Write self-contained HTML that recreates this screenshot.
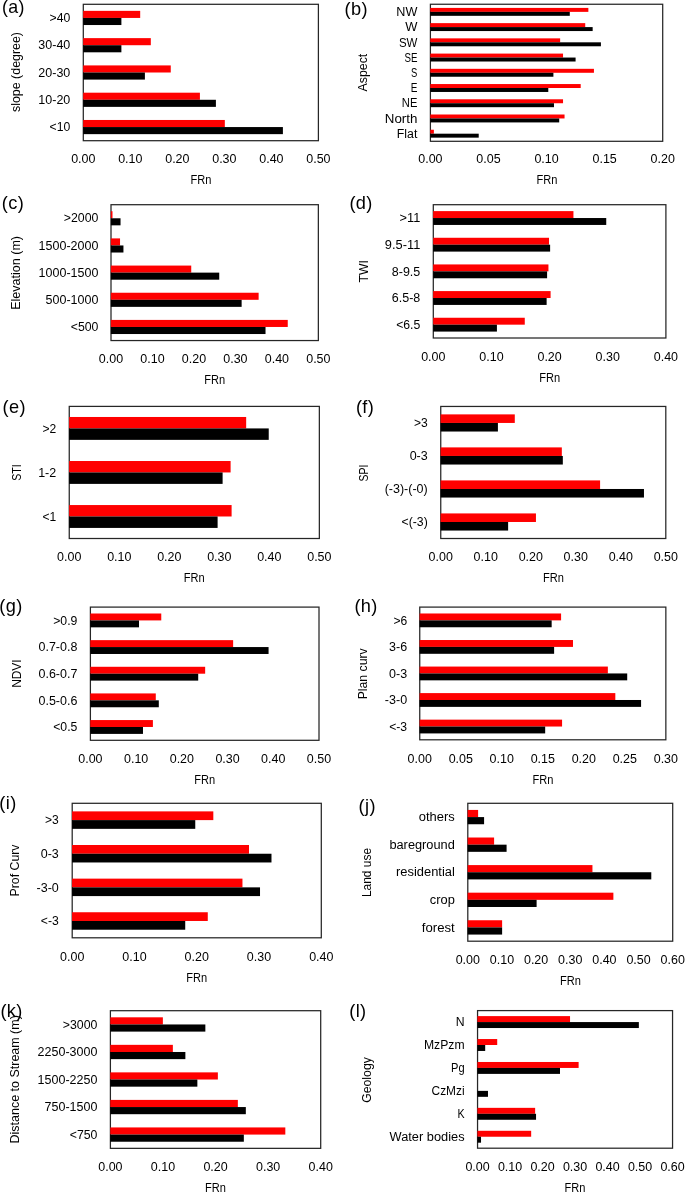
<!DOCTYPE html>
<html><head><meta charset="utf-8"><title>FRn charts</title>
<style>
html,body{margin:0;padding:0;background:#fff;}
svg{display:block;will-change:transform;font-family:"Liberation Sans",sans-serif;}
</style></head><body>
<svg width="685" height="1193" viewBox="0 0 685 1193">
<rect x="0" y="0" width="685" height="1193" fill="#ffffff"/>
<g>
<rect x="83.30" y="4.30" width="235.10" height="136.40" fill="none" stroke="#262626" stroke-width="1.25"/>
<rect x="83.15" y="10.85" width="57.04" height="7.09" fill="#ff0000"/>
<rect x="83.15" y="17.94" width="38.24" height="7.09" fill="#000"/>
<text x="70.30" y="22.14" text-anchor="end" font-size="12.30" textLength="20.71" lengthAdjust="spacingAndGlyphs" fill="#000">&gt;40</text>
<rect x="83.15" y="38.13" width="67.67" height="7.09" fill="#ff0000"/>
<rect x="83.15" y="45.22" width="38.24" height="7.09" fill="#000"/>
<text x="70.30" y="49.42" text-anchor="end" font-size="12.30" textLength="31.98" lengthAdjust="spacingAndGlyphs" fill="#000">30-40</text>
<rect x="83.15" y="65.41" width="87.61" height="7.09" fill="#ff0000"/>
<rect x="83.15" y="72.50" width="61.75" height="7.09" fill="#000"/>
<text x="70.30" y="76.70" text-anchor="end" font-size="12.30" textLength="31.98" lengthAdjust="spacingAndGlyphs" fill="#000">20-30</text>
<rect x="83.15" y="92.69" width="116.76" height="7.09" fill="#ff0000"/>
<rect x="83.15" y="99.78" width="132.75" height="7.09" fill="#000"/>
<text x="70.30" y="103.98" text-anchor="end" font-size="12.30" textLength="31.98" lengthAdjust="spacingAndGlyphs" fill="#000">10-20</text>
<rect x="83.15" y="119.97" width="141.68" height="7.09" fill="#ff0000"/>
<rect x="83.15" y="127.06" width="199.75" height="7.09" fill="#000"/>
<text x="70.30" y="131.26" text-anchor="end" font-size="12.30" textLength="20.71" lengthAdjust="spacingAndGlyphs" fill="#000">&lt;10</text>
<text x="83.30" y="163.30" text-anchor="middle" font-size="12.30" textLength="24.29" lengthAdjust="spacingAndGlyphs" fill="#000">0.00</text>
<text x="130.32" y="163.30" text-anchor="middle" font-size="12.30" textLength="24.29" lengthAdjust="spacingAndGlyphs" fill="#000">0.10</text>
<text x="177.34" y="163.30" text-anchor="middle" font-size="12.30" textLength="24.29" lengthAdjust="spacingAndGlyphs" fill="#000">0.20</text>
<text x="224.36" y="163.30" text-anchor="middle" font-size="12.30" textLength="24.29" lengthAdjust="spacingAndGlyphs" fill="#000">0.30</text>
<text x="271.38" y="163.30" text-anchor="middle" font-size="12.30" textLength="24.29" lengthAdjust="spacingAndGlyphs" fill="#000">0.40</text>
<text x="318.40" y="163.30" text-anchor="middle" font-size="12.30" textLength="24.29" lengthAdjust="spacingAndGlyphs" fill="#000">0.50</text>
<text x="201.00" y="184.30" text-anchor="middle" font-size="12.30" textLength="20.92" lengthAdjust="spacingAndGlyphs" fill="#000">FRn</text>
<text x="20.40" y="72.00" text-anchor="middle" font-size="12.30" textLength="80.02" lengthAdjust="spacingAndGlyphs" transform="rotate(-90 20.40 72.00)" fill="#000">slope (degree)</text>
<text x="1.90" y="13.10" text-anchor="start" font-size="17.80" fill="#000" letter-spacing="0.4">(a)</text>
<rect x="430.40" y="4.25" width="232.30" height="137.05" fill="none" stroke="#262626" stroke-width="1.25"/>
<rect x="430.25" y="7.91" width="158.11" height="3.96" fill="#ff0000"/>
<rect x="430.25" y="11.86" width="139.53" height="3.96" fill="#000"/>
<text x="417.40" y="16.06" text-anchor="end" font-size="12.30" textLength="21.04" lengthAdjust="spacingAndGlyphs" fill="#000">NW</text>
<rect x="430.25" y="23.14" width="154.98" height="3.96" fill="#ff0000"/>
<rect x="430.25" y="27.09" width="162.41" height="3.96" fill="#000"/>
<text x="417.40" y="31.29" text-anchor="end" font-size="12.30" textLength="12.19" lengthAdjust="spacingAndGlyphs" fill="#000">W</text>
<rect x="430.25" y="38.36" width="129.89" height="3.96" fill="#ff0000"/>
<rect x="430.25" y="42.32" width="170.66" height="3.96" fill="#000"/>
<text x="417.40" y="46.52" text-anchor="end" font-size="12.30" textLength="18.48" lengthAdjust="spacingAndGlyphs" fill="#000">SW</text>
<rect x="430.25" y="53.59" width="132.79" height="3.96" fill="#ff0000"/>
<rect x="430.25" y="57.55" width="145.34" height="3.96" fill="#000"/>
<text x="417.40" y="61.75" text-anchor="end" font-size="12.30" textLength="12.97" lengthAdjust="spacingAndGlyphs" fill="#000">SE</text>
<rect x="430.25" y="68.82" width="163.69" height="3.96" fill="#ff0000"/>
<rect x="430.25" y="72.78" width="123.15" height="3.96" fill="#000"/>
<text x="417.40" y="76.98" text-anchor="end" font-size="12.30" textLength="6.29" lengthAdjust="spacingAndGlyphs" fill="#000">S</text>
<rect x="430.25" y="84.05" width="150.45" height="3.96" fill="#ff0000"/>
<rect x="430.25" y="88.00" width="118.04" height="3.96" fill="#000"/>
<text x="417.40" y="92.20" text-anchor="end" font-size="12.30" textLength="6.69" lengthAdjust="spacingAndGlyphs" fill="#000">E</text>
<rect x="430.25" y="99.28" width="132.79" height="3.96" fill="#ff0000"/>
<rect x="430.25" y="103.23" width="123.73" height="3.96" fill="#000"/>
<text x="417.40" y="107.43" text-anchor="end" font-size="12.30" textLength="15.54" lengthAdjust="spacingAndGlyphs" fill="#000">NE</text>
<rect x="430.25" y="114.50" width="134.30" height="3.96" fill="#ff0000"/>
<rect x="430.25" y="118.46" width="128.96" height="3.96" fill="#000"/>
<text x="417.40" y="122.66" text-anchor="end" font-size="12.30" textLength="32.63" lengthAdjust="spacingAndGlyphs" fill="#000">North</text>
<rect x="430.25" y="129.73" width="3.63" height="3.96" fill="#ff0000"/>
<rect x="430.25" y="133.69" width="48.47" height="3.96" fill="#000"/>
<text x="417.40" y="137.89" text-anchor="end" font-size="12.30" textLength="20.58" lengthAdjust="spacingAndGlyphs" fill="#000">Flat</text>
<text x="430.40" y="163.40" text-anchor="middle" font-size="12.30" textLength="24.29" lengthAdjust="spacingAndGlyphs" fill="#000">0.00</text>
<text x="488.48" y="163.40" text-anchor="middle" font-size="12.30" textLength="24.29" lengthAdjust="spacingAndGlyphs" fill="#000">0.05</text>
<text x="546.55" y="163.40" text-anchor="middle" font-size="12.30" textLength="24.29" lengthAdjust="spacingAndGlyphs" fill="#000">0.10</text>
<text x="604.62" y="163.40" text-anchor="middle" font-size="12.30" textLength="24.29" lengthAdjust="spacingAndGlyphs" fill="#000">0.15</text>
<text x="662.70" y="163.40" text-anchor="middle" font-size="12.30" textLength="24.29" lengthAdjust="spacingAndGlyphs" fill="#000">0.20</text>
<text x="547.00" y="184.40" text-anchor="middle" font-size="12.30" textLength="20.92" lengthAdjust="spacingAndGlyphs" fill="#000">FRn</text>
<text x="367.40" y="72.60" text-anchor="middle" font-size="12.30" textLength="37.69" lengthAdjust="spacingAndGlyphs" transform="rotate(-90 367.40 72.60)" fill="#000">Aspect</text>
<text x="344.60" y="15.00" text-anchor="start" font-size="18.20" fill="#000" letter-spacing="0.4">(b)</text>
<rect x="111.00" y="204.70" width="207.35" height="135.85" fill="none" stroke="#262626" stroke-width="1.25"/>
<rect x="110.85" y="211.23" width="1.64" height="7.06" fill="#ff0000"/>
<rect x="110.85" y="218.28" width="9.69" height="7.06" fill="#000"/>
<text x="98.40" y="222.49" text-anchor="end" font-size="12.30" textLength="34.61" lengthAdjust="spacingAndGlyphs" fill="#000">&gt;2000</text>
<rect x="110.85" y="238.40" width="9.19" height="7.06" fill="#ff0000"/>
<rect x="110.85" y="245.46" width="12.59" height="7.06" fill="#000"/>
<text x="98.40" y="249.66" text-anchor="end" font-size="12.30" textLength="59.76" lengthAdjust="spacingAndGlyphs" fill="#000">1500-2000</text>
<rect x="110.85" y="265.57" width="80.39" height="7.06" fill="#ff0000"/>
<rect x="110.85" y="272.63" width="108.39" height="7.06" fill="#000"/>
<text x="98.40" y="276.82" text-anchor="end" font-size="12.30" textLength="59.76" lengthAdjust="spacingAndGlyphs" fill="#000">1000-1500</text>
<rect x="110.85" y="292.74" width="147.78" height="7.06" fill="#ff0000"/>
<rect x="110.85" y="299.80" width="130.78" height="7.06" fill="#000"/>
<text x="98.40" y="304.00" text-anchor="end" font-size="12.30" textLength="52.81" lengthAdjust="spacingAndGlyphs" fill="#000">500-1000</text>
<rect x="110.85" y="319.91" width="176.90" height="7.06" fill="#ff0000"/>
<rect x="110.85" y="326.97" width="154.67" height="7.06" fill="#000"/>
<text x="98.40" y="331.17" text-anchor="end" font-size="12.30" textLength="27.66" lengthAdjust="spacingAndGlyphs" fill="#000">&lt;500</text>
<text x="111.00" y="363.45" text-anchor="middle" font-size="12.30" textLength="24.29" lengthAdjust="spacingAndGlyphs" fill="#000">0.00</text>
<text x="152.47" y="363.45" text-anchor="middle" font-size="12.30" textLength="24.29" lengthAdjust="spacingAndGlyphs" fill="#000">0.10</text>
<text x="193.94" y="363.45" text-anchor="middle" font-size="12.30" textLength="24.29" lengthAdjust="spacingAndGlyphs" fill="#000">0.20</text>
<text x="235.41" y="363.45" text-anchor="middle" font-size="12.30" textLength="24.29" lengthAdjust="spacingAndGlyphs" fill="#000">0.30</text>
<text x="276.88" y="363.45" text-anchor="middle" font-size="12.30" textLength="24.29" lengthAdjust="spacingAndGlyphs" fill="#000">0.40</text>
<text x="318.35" y="363.45" text-anchor="middle" font-size="12.30" textLength="24.29" lengthAdjust="spacingAndGlyphs" fill="#000">0.50</text>
<text x="214.60" y="384.45" text-anchor="middle" font-size="12.30" textLength="20.92" lengthAdjust="spacingAndGlyphs" fill="#000">FRn</text>
<text x="20.40" y="272.90" text-anchor="middle" font-size="12.30" textLength="73.88" lengthAdjust="spacingAndGlyphs" transform="rotate(-90 20.40 272.90)" fill="#000">Elevation (m)</text>
<text x="1.80" y="209.10" text-anchor="start" font-size="18.20" fill="#000" letter-spacing="0.4">(c)</text>
<rect x="433.30" y="204.70" width="232.60" height="133.30" fill="none" stroke="#262626" stroke-width="1.25"/>
<rect x="433.15" y="211.11" width="140.29" height="6.92" fill="#ff0000"/>
<rect x="433.15" y="218.03" width="173.09" height="6.92" fill="#000"/>
<text x="420.30" y="222.23" text-anchor="end" font-size="12.30" textLength="20.71" lengthAdjust="spacingAndGlyphs" fill="#000">&gt;11</text>
<rect x="433.15" y="237.77" width="115.87" height="6.92" fill="#ff0000"/>
<rect x="433.15" y="244.69" width="116.97" height="6.92" fill="#000"/>
<text x="420.30" y="248.89" text-anchor="end" font-size="12.30" textLength="35.43" lengthAdjust="spacingAndGlyphs" fill="#000">9.5-11</text>
<rect x="433.15" y="264.43" width="115.29" height="6.92" fill="#ff0000"/>
<rect x="433.15" y="271.35" width="113.95" height="6.92" fill="#000"/>
<text x="420.30" y="275.55" text-anchor="end" font-size="12.30" textLength="28.48" lengthAdjust="spacingAndGlyphs" fill="#000">8-9.5</text>
<rect x="433.15" y="291.09" width="117.44" height="6.92" fill="#ff0000"/>
<rect x="433.15" y="298.01" width="113.48" height="6.92" fill="#000"/>
<text x="420.30" y="302.21" text-anchor="end" font-size="12.30" textLength="28.48" lengthAdjust="spacingAndGlyphs" fill="#000">6.5-8</text>
<rect x="433.15" y="317.75" width="91.62" height="6.92" fill="#ff0000"/>
<rect x="433.15" y="324.67" width="63.77" height="6.92" fill="#000"/>
<text x="420.30" y="328.87" text-anchor="end" font-size="12.30" textLength="24.17" lengthAdjust="spacingAndGlyphs" fill="#000">&lt;6.5</text>
<text x="433.30" y="360.90" text-anchor="middle" font-size="12.30" textLength="24.29" lengthAdjust="spacingAndGlyphs" fill="#000">0.00</text>
<text x="491.45" y="360.90" text-anchor="middle" font-size="12.30" textLength="24.29" lengthAdjust="spacingAndGlyphs" fill="#000">0.10</text>
<text x="549.60" y="360.90" text-anchor="middle" font-size="12.30" textLength="24.29" lengthAdjust="spacingAndGlyphs" fill="#000">0.20</text>
<text x="607.75" y="360.90" text-anchor="middle" font-size="12.30" textLength="24.29" lengthAdjust="spacingAndGlyphs" fill="#000">0.30</text>
<text x="665.90" y="360.90" text-anchor="middle" font-size="12.30" textLength="24.29" lengthAdjust="spacingAndGlyphs" fill="#000">0.40</text>
<text x="549.70" y="381.90" text-anchor="middle" font-size="12.30" textLength="20.92" lengthAdjust="spacingAndGlyphs" fill="#000">FRn</text>
<text x="367.60" y="271.30" text-anchor="middle" font-size="12.30" textLength="22.32" lengthAdjust="spacingAndGlyphs" transform="rotate(-90 367.60 271.30)" fill="#000">TWI</text>
<text x="349.40" y="208.70" text-anchor="start" font-size="18.20" fill="#000" letter-spacing="0.4">(d)</text>
<rect x="69.25" y="406.40" width="250.10" height="132.10" fill="none" stroke="#262626" stroke-width="1.25"/>
<rect x="69.10" y="416.98" width="177.07" height="11.44" fill="#ff0000"/>
<rect x="69.10" y="428.42" width="199.63" height="11.44" fill="#000"/>
<text x="56.25" y="432.62" text-anchor="end" font-size="12.30" textLength="13.77" lengthAdjust="spacingAndGlyphs" fill="#000">&gt;2</text>
<rect x="69.10" y="461.01" width="161.51" height="11.44" fill="#ff0000"/>
<rect x="69.10" y="472.45" width="153.51" height="11.44" fill="#000"/>
<text x="56.25" y="476.65" text-anchor="end" font-size="12.30" textLength="18.08" lengthAdjust="spacingAndGlyphs" fill="#000">1-2</text>
<rect x="69.10" y="505.05" width="162.51" height="11.44" fill="#ff0000"/>
<rect x="69.10" y="516.48" width="148.51" height="11.44" fill="#000"/>
<text x="56.25" y="520.68" text-anchor="end" font-size="12.30" textLength="13.77" lengthAdjust="spacingAndGlyphs" fill="#000">&lt;1</text>
<text x="69.25" y="561.40" text-anchor="middle" font-size="12.30" textLength="24.29" lengthAdjust="spacingAndGlyphs" fill="#000">0.00</text>
<text x="119.27" y="561.40" text-anchor="middle" font-size="12.30" textLength="24.29" lengthAdjust="spacingAndGlyphs" fill="#000">0.10</text>
<text x="169.29" y="561.40" text-anchor="middle" font-size="12.30" textLength="24.29" lengthAdjust="spacingAndGlyphs" fill="#000">0.20</text>
<text x="219.31" y="561.40" text-anchor="middle" font-size="12.30" textLength="24.29" lengthAdjust="spacingAndGlyphs" fill="#000">0.30</text>
<text x="269.33" y="561.40" text-anchor="middle" font-size="12.30" textLength="24.29" lengthAdjust="spacingAndGlyphs" fill="#000">0.40</text>
<text x="319.35" y="561.40" text-anchor="middle" font-size="12.30" textLength="24.29" lengthAdjust="spacingAndGlyphs" fill="#000">0.50</text>
<text x="194.30" y="582.40" text-anchor="middle" font-size="12.30" textLength="20.92" lengthAdjust="spacingAndGlyphs" fill="#000">FRn</text>
<text x="20.70" y="472.50" text-anchor="middle" font-size="12.30" textLength="16.41" lengthAdjust="spacingAndGlyphs" transform="rotate(-90 20.70 472.50)" fill="#000">STI</text>
<text x="2.50" y="412.90" text-anchor="start" font-size="18.20" fill="#000" letter-spacing="0.4">(e)</text>
<rect x="440.75" y="406.45" width="225.05" height="132.05" fill="none" stroke="#262626" stroke-width="1.25"/>
<rect x="440.60" y="414.38" width="74.19" height="8.57" fill="#ff0000"/>
<rect x="440.60" y="422.96" width="57.31" height="8.57" fill="#000"/>
<text x="427.75" y="427.16" text-anchor="end" font-size="12.30" textLength="13.77" lengthAdjust="spacingAndGlyphs" fill="#000">&gt;3</text>
<rect x="440.60" y="447.39" width="121.23" height="8.57" fill="#ff0000"/>
<rect x="440.60" y="455.97" width="122.22" height="8.57" fill="#000"/>
<text x="427.75" y="460.17" text-anchor="end" font-size="12.30" textLength="18.08" lengthAdjust="spacingAndGlyphs" fill="#000">0-3</text>
<rect x="440.60" y="480.41" width="159.49" height="8.57" fill="#ff0000"/>
<rect x="440.60" y="488.98" width="203.37" height="8.57" fill="#000"/>
<text x="427.75" y="493.18" text-anchor="end" font-size="12.30" textLength="43.07" lengthAdjust="spacingAndGlyphs" fill="#000">(-3)-(-0)</text>
<rect x="440.60" y="513.42" width="95.35" height="8.57" fill="#ff0000"/>
<rect x="440.60" y="521.99" width="67.53" height="8.57" fill="#000"/>
<text x="427.75" y="526.19" text-anchor="end" font-size="12.30" textLength="26.26" lengthAdjust="spacingAndGlyphs" fill="#000">&lt;(-3)</text>
<text x="440.75" y="561.40" text-anchor="middle" font-size="12.30" textLength="24.29" lengthAdjust="spacingAndGlyphs" fill="#000">0.00</text>
<text x="485.76" y="561.40" text-anchor="middle" font-size="12.30" textLength="24.29" lengthAdjust="spacingAndGlyphs" fill="#000">0.10</text>
<text x="530.77" y="561.40" text-anchor="middle" font-size="12.30" textLength="24.29" lengthAdjust="spacingAndGlyphs" fill="#000">0.20</text>
<text x="575.78" y="561.40" text-anchor="middle" font-size="12.30" textLength="24.29" lengthAdjust="spacingAndGlyphs" fill="#000">0.30</text>
<text x="620.79" y="561.40" text-anchor="middle" font-size="12.30" textLength="24.29" lengthAdjust="spacingAndGlyphs" fill="#000">0.40</text>
<text x="665.80" y="561.40" text-anchor="middle" font-size="12.30" textLength="24.29" lengthAdjust="spacingAndGlyphs" fill="#000">0.50</text>
<text x="553.50" y="582.40" text-anchor="middle" font-size="12.30" textLength="20.92" lengthAdjust="spacingAndGlyphs" fill="#000">FRn</text>
<text x="367.90" y="473.00" text-anchor="middle" font-size="12.30" textLength="16.82" lengthAdjust="spacingAndGlyphs" transform="rotate(-90 367.90 473.00)" fill="#000">SPI</text>
<text x="355.90" y="412.90" text-anchor="start" font-size="18.20" fill="#000" letter-spacing="0.4">(f)</text>
<rect x="90.40" y="607.10" width="228.60" height="133.20" fill="none" stroke="#262626" stroke-width="1.25"/>
<rect x="90.25" y="613.50" width="71.02" height="6.92" fill="#ff0000"/>
<rect x="90.25" y="620.42" width="48.75" height="6.92" fill="#000"/>
<text x="77.40" y="624.62" text-anchor="end" font-size="12.30" textLength="24.17" lengthAdjust="spacingAndGlyphs" fill="#000">&gt;0.9</text>
<rect x="90.25" y="640.14" width="142.89" height="6.92" fill="#ff0000"/>
<rect x="90.25" y="647.06" width="178.32" height="6.92" fill="#000"/>
<text x="77.40" y="651.26" text-anchor="end" font-size="12.30" textLength="38.88" lengthAdjust="spacingAndGlyphs" fill="#000">0.7-0.8</text>
<rect x="90.25" y="666.78" width="114.91" height="6.92" fill="#ff0000"/>
<rect x="90.25" y="673.70" width="107.96" height="6.92" fill="#000"/>
<text x="77.40" y="677.90" text-anchor="end" font-size="12.30" textLength="38.88" lengthAdjust="spacingAndGlyphs" fill="#000">0.6-0.7</text>
<rect x="90.25" y="693.42" width="65.53" height="6.92" fill="#ff0000"/>
<rect x="90.25" y="700.34" width="68.55" height="6.92" fill="#000"/>
<text x="77.40" y="704.54" text-anchor="end" font-size="12.30" textLength="38.88" lengthAdjust="spacingAndGlyphs" fill="#000">0.5-0.6</text>
<rect x="90.25" y="720.06" width="62.65" height="6.92" fill="#ff0000"/>
<rect x="90.25" y="726.98" width="52.73" height="6.92" fill="#000"/>
<text x="77.40" y="731.18" text-anchor="end" font-size="12.30" textLength="24.17" lengthAdjust="spacingAndGlyphs" fill="#000">&lt;0.5</text>
<text x="90.40" y="763.20" text-anchor="middle" font-size="12.30" textLength="24.29" lengthAdjust="spacingAndGlyphs" fill="#000">0.00</text>
<text x="136.12" y="763.20" text-anchor="middle" font-size="12.30" textLength="24.29" lengthAdjust="spacingAndGlyphs" fill="#000">0.10</text>
<text x="181.84" y="763.20" text-anchor="middle" font-size="12.30" textLength="24.29" lengthAdjust="spacingAndGlyphs" fill="#000">0.20</text>
<text x="227.56" y="763.20" text-anchor="middle" font-size="12.30" textLength="24.29" lengthAdjust="spacingAndGlyphs" fill="#000">0.30</text>
<text x="273.28" y="763.20" text-anchor="middle" font-size="12.30" textLength="24.29" lengthAdjust="spacingAndGlyphs" fill="#000">0.40</text>
<text x="319.00" y="763.20" text-anchor="middle" font-size="12.30" textLength="24.29" lengthAdjust="spacingAndGlyphs" fill="#000">0.50</text>
<text x="204.60" y="784.20" text-anchor="middle" font-size="12.30" textLength="20.92" lengthAdjust="spacingAndGlyphs" fill="#000">FRn</text>
<text x="21.20" y="673.60" text-anchor="middle" font-size="12.30" textLength="28.50" lengthAdjust="spacingAndGlyphs" transform="rotate(-90 21.20 673.60)" fill="#000">NDVI</text>
<text x="-0.70" y="611.80" text-anchor="start" font-size="18.20" fill="#000" letter-spacing="0.4">(g)</text>
<rect x="419.75" y="607.10" width="246.10" height="132.70" fill="none" stroke="#262626" stroke-width="1.25"/>
<rect x="419.60" y="613.48" width="141.49" height="6.89" fill="#ff0000"/>
<rect x="419.60" y="620.37" width="132.06" height="6.89" fill="#000"/>
<text x="407.15" y="624.57" text-anchor="end" font-size="12.30" textLength="13.77" lengthAdjust="spacingAndGlyphs" fill="#000">&gt;6</text>
<rect x="419.60" y="640.02" width="153.39" height="6.89" fill="#ff0000"/>
<rect x="419.60" y="646.91" width="134.52" height="6.89" fill="#000"/>
<text x="407.15" y="651.11" text-anchor="end" font-size="12.30" textLength="18.08" lengthAdjust="spacingAndGlyphs" fill="#000">3-6</text>
<rect x="419.60" y="666.56" width="188.25" height="6.89" fill="#ff0000"/>
<rect x="419.60" y="673.45" width="207.61" height="6.89" fill="#000"/>
<text x="407.15" y="677.65" text-anchor="end" font-size="12.30" textLength="18.08" lengthAdjust="spacingAndGlyphs" fill="#000">0-3</text>
<rect x="419.60" y="693.10" width="195.72" height="6.89" fill="#ff0000"/>
<rect x="419.60" y="699.99" width="221.48" height="6.89" fill="#000"/>
<text x="407.15" y="704.19" text-anchor="end" font-size="12.30" textLength="22.28" lengthAdjust="spacingAndGlyphs" fill="#000">-3-0</text>
<rect x="419.60" y="719.64" width="142.48" height="6.89" fill="#ff0000"/>
<rect x="419.60" y="726.53" width="125.58" height="6.89" fill="#000"/>
<text x="407.15" y="730.73" text-anchor="end" font-size="12.30" textLength="17.96" lengthAdjust="spacingAndGlyphs" fill="#000">&lt;-3</text>
<text x="419.75" y="762.70" text-anchor="middle" font-size="12.30" textLength="24.29" lengthAdjust="spacingAndGlyphs" fill="#000">0.00</text>
<text x="460.77" y="762.70" text-anchor="middle" font-size="12.30" textLength="24.29" lengthAdjust="spacingAndGlyphs" fill="#000">0.05</text>
<text x="501.78" y="762.70" text-anchor="middle" font-size="12.30" textLength="24.29" lengthAdjust="spacingAndGlyphs" fill="#000">0.10</text>
<text x="542.80" y="762.70" text-anchor="middle" font-size="12.30" textLength="24.29" lengthAdjust="spacingAndGlyphs" fill="#000">0.15</text>
<text x="583.82" y="762.70" text-anchor="middle" font-size="12.30" textLength="24.29" lengthAdjust="spacingAndGlyphs" fill="#000">0.20</text>
<text x="624.83" y="762.70" text-anchor="middle" font-size="12.30" textLength="24.29" lengthAdjust="spacingAndGlyphs" fill="#000">0.25</text>
<text x="665.85" y="762.70" text-anchor="middle" font-size="12.30" textLength="24.29" lengthAdjust="spacingAndGlyphs" fill="#000">0.30</text>
<text x="543.00" y="783.70" text-anchor="middle" font-size="12.30" textLength="20.92" lengthAdjust="spacingAndGlyphs" fill="#000">FRn</text>
<text x="367.40" y="673.80" text-anchor="middle" font-size="12.30" textLength="51.03" lengthAdjust="spacingAndGlyphs" transform="rotate(-90 367.40 673.80)" fill="#000">Plan curv</text>
<text x="354.40" y="611.90" text-anchor="start" font-size="18.20" fill="#000" letter-spacing="0.4">(h)</text>
<rect x="72.20" y="803.30" width="249.10" height="134.50" fill="none" stroke="#262626" stroke-width="1.25"/>
<rect x="72.05" y="811.38" width="141.27" height="8.73" fill="#ff0000"/>
<rect x="72.05" y="820.11" width="123.21" height="8.73" fill="#000"/>
<text x="58.80" y="824.31" text-anchor="end" font-size="12.30" textLength="13.77" lengthAdjust="spacingAndGlyphs" fill="#000">&gt;3</text>
<rect x="72.05" y="845.00" width="176.95" height="8.73" fill="#ff0000"/>
<rect x="72.05" y="853.74" width="199.43" height="8.73" fill="#000"/>
<text x="58.80" y="857.94" text-anchor="end" font-size="12.30" textLength="18.08" lengthAdjust="spacingAndGlyphs" fill="#000">0-3</text>
<rect x="72.05" y="878.63" width="170.41" height="8.73" fill="#ff0000"/>
<rect x="72.05" y="887.36" width="187.97" height="8.73" fill="#000"/>
<text x="58.80" y="891.56" text-anchor="end" font-size="12.30" textLength="22.28" lengthAdjust="spacingAndGlyphs" fill="#000">-3-0</text>
<rect x="72.05" y="912.25" width="135.72" height="8.73" fill="#ff0000"/>
<rect x="72.05" y="920.99" width="113.18" height="8.73" fill="#000"/>
<text x="58.80" y="925.19" text-anchor="end" font-size="12.30" textLength="17.96" lengthAdjust="spacingAndGlyphs" fill="#000">&lt;-3</text>
<text x="72.20" y="960.70" text-anchor="middle" font-size="12.30" textLength="24.29" lengthAdjust="spacingAndGlyphs" fill="#000">0.00</text>
<text x="134.48" y="960.70" text-anchor="middle" font-size="12.30" textLength="24.29" lengthAdjust="spacingAndGlyphs" fill="#000">0.10</text>
<text x="196.75" y="960.70" text-anchor="middle" font-size="12.30" textLength="24.29" lengthAdjust="spacingAndGlyphs" fill="#000">0.20</text>
<text x="259.03" y="960.70" text-anchor="middle" font-size="12.30" textLength="24.29" lengthAdjust="spacingAndGlyphs" fill="#000">0.30</text>
<text x="321.30" y="960.70" text-anchor="middle" font-size="12.30" textLength="24.29" lengthAdjust="spacingAndGlyphs" fill="#000">0.40</text>
<text x="196.80" y="981.70" text-anchor="middle" font-size="12.30" textLength="20.92" lengthAdjust="spacingAndGlyphs" fill="#000">FRn</text>
<text x="18.90" y="870.50" text-anchor="middle" font-size="12.30" textLength="51.83" lengthAdjust="spacingAndGlyphs" transform="rotate(-90 18.90 870.50)" fill="#000">Prof Curv</text>
<text x="-0.70" y="808.80" text-anchor="start" font-size="18.20" fill="#000" letter-spacing="0.4">(i)</text>
<rect x="467.80" y="803.30" width="204.90" height="137.90" fill="none" stroke="#262626" stroke-width="1.25"/>
<rect x="467.65" y="809.93" width="10.46" height="7.16" fill="#ff0000"/>
<rect x="467.65" y="817.09" width="16.44" height="7.16" fill="#000"/>
<text x="454.80" y="821.29" text-anchor="end" font-size="12.30" textLength="35.96" lengthAdjust="spacingAndGlyphs" fill="#000">others</text>
<rect x="467.65" y="837.51" width="26.45" height="7.16" fill="#ff0000"/>
<rect x="467.65" y="844.67" width="38.94" height="7.16" fill="#000"/>
<text x="454.80" y="848.87" text-anchor="end" font-size="12.30" textLength="65.39" lengthAdjust="spacingAndGlyphs" fill="#000">bareground</text>
<rect x="467.65" y="865.09" width="124.80" height="7.16" fill="#ff0000"/>
<rect x="467.65" y="872.25" width="183.64" height="7.16" fill="#000"/>
<text x="454.80" y="876.45" text-anchor="end" font-size="12.30" textLength="58.73" lengthAdjust="spacingAndGlyphs" fill="#000">residential</text>
<rect x="467.65" y="892.67" width="145.73" height="7.16" fill="#ff0000"/>
<rect x="467.65" y="899.83" width="68.96" height="7.16" fill="#000"/>
<text x="454.80" y="904.03" text-anchor="end" font-size="12.30" textLength="24.99" lengthAdjust="spacingAndGlyphs" fill="#000">crop</text>
<rect x="467.65" y="920.25" width="34.47" height="7.16" fill="#ff0000"/>
<rect x="467.65" y="927.41" width="34.47" height="7.16" fill="#000"/>
<text x="454.80" y="931.61" text-anchor="end" font-size="12.30" textLength="32.95" lengthAdjust="spacingAndGlyphs" fill="#000">forest</text>
<text x="467.80" y="964.10" text-anchor="middle" font-size="12.30" textLength="24.29" lengthAdjust="spacingAndGlyphs" fill="#000">0.00</text>
<text x="501.95" y="964.10" text-anchor="middle" font-size="12.30" textLength="24.29" lengthAdjust="spacingAndGlyphs" fill="#000">0.10</text>
<text x="536.10" y="964.10" text-anchor="middle" font-size="12.30" textLength="24.29" lengthAdjust="spacingAndGlyphs" fill="#000">0.20</text>
<text x="570.25" y="964.10" text-anchor="middle" font-size="12.30" textLength="24.29" lengthAdjust="spacingAndGlyphs" fill="#000">0.30</text>
<text x="604.40" y="964.10" text-anchor="middle" font-size="12.30" textLength="24.29" lengthAdjust="spacingAndGlyphs" fill="#000">0.40</text>
<text x="638.55" y="964.10" text-anchor="middle" font-size="12.30" textLength="24.29" lengthAdjust="spacingAndGlyphs" fill="#000">0.50</text>
<text x="672.70" y="964.10" text-anchor="middle" font-size="12.30" textLength="24.29" lengthAdjust="spacingAndGlyphs" fill="#000">0.60</text>
<text x="570.50" y="985.10" text-anchor="middle" font-size="12.30" textLength="20.92" lengthAdjust="spacingAndGlyphs" fill="#000">FRn</text>
<text x="370.50" y="872.50" text-anchor="middle" font-size="12.30" textLength="49.17" lengthAdjust="spacingAndGlyphs" transform="rotate(-90 370.50 872.50)" fill="#000">Land use</text>
<text x="358.60" y="812.00" text-anchor="start" font-size="18.20" fill="#000" letter-spacing="0.4">(j)</text>
<rect x="110.40" y="1010.70" width="210.30" height="137.65" fill="none" stroke="#262626" stroke-width="1.25"/>
<rect x="110.25" y="1017.31" width="52.62" height="7.15" fill="#ff0000"/>
<rect x="110.25" y="1024.46" width="95.10" height="7.15" fill="#000"/>
<text x="97.40" y="1028.67" text-anchor="end" font-size="12.30" textLength="34.61" lengthAdjust="spacingAndGlyphs" fill="#000">&gt;3000</text>
<rect x="110.25" y="1044.84" width="62.61" height="7.15" fill="#ff0000"/>
<rect x="110.25" y="1051.99" width="75.12" height="7.15" fill="#000"/>
<text x="97.40" y="1056.19" text-anchor="end" font-size="12.30" textLength="59.76" lengthAdjust="spacingAndGlyphs" fill="#000">2250-3000</text>
<rect x="110.25" y="1072.37" width="107.61" height="7.15" fill="#ff0000"/>
<rect x="110.25" y="1079.52" width="87.11" height="7.15" fill="#000"/>
<text x="97.40" y="1083.73" text-anchor="end" font-size="12.30" textLength="59.76" lengthAdjust="spacingAndGlyphs" fill="#000">1500-2250</text>
<rect x="110.25" y="1099.90" width="127.59" height="7.15" fill="#ff0000"/>
<rect x="110.25" y="1107.05" width="135.58" height="7.15" fill="#000"/>
<text x="97.40" y="1111.25" text-anchor="end" font-size="12.30" textLength="52.81" lengthAdjust="spacingAndGlyphs" fill="#000">750-1500</text>
<rect x="110.25" y="1127.43" width="175.07" height="7.15" fill="#ff0000"/>
<rect x="110.25" y="1134.58" width="133.59" height="7.15" fill="#000"/>
<text x="97.40" y="1138.79" text-anchor="end" font-size="12.30" textLength="27.66" lengthAdjust="spacingAndGlyphs" fill="#000">&lt;750</text>
<text x="110.40" y="1171.25" text-anchor="middle" font-size="12.30" textLength="24.29" lengthAdjust="spacingAndGlyphs" fill="#000">0.00</text>
<text x="162.97" y="1171.25" text-anchor="middle" font-size="12.30" textLength="24.29" lengthAdjust="spacingAndGlyphs" fill="#000">0.10</text>
<text x="215.55" y="1171.25" text-anchor="middle" font-size="12.30" textLength="24.29" lengthAdjust="spacingAndGlyphs" fill="#000">0.20</text>
<text x="268.12" y="1171.25" text-anchor="middle" font-size="12.30" textLength="24.29" lengthAdjust="spacingAndGlyphs" fill="#000">0.30</text>
<text x="320.70" y="1171.25" text-anchor="middle" font-size="12.30" textLength="24.29" lengthAdjust="spacingAndGlyphs" fill="#000">0.40</text>
<text x="215.40" y="1192.25" text-anchor="middle" font-size="12.30" textLength="20.92" lengthAdjust="spacingAndGlyphs" fill="#000">FRn</text>
<text x="19.40" y="1079.30" text-anchor="middle" font-size="12.30" textLength="128.22" lengthAdjust="spacingAndGlyphs" transform="rotate(-90 19.40 1079.30)" fill="#000">Distance to Stream (m)</text>
<text x="0.40" y="1016.70" text-anchor="start" font-size="18.20" fill="#000" letter-spacing="0.4">(k)</text>
<rect x="477.55" y="1010.60" width="195.00" height="137.60" fill="none" stroke="#262626" stroke-width="1.25"/>
<rect x="477.40" y="1016.11" width="92.64" height="5.96" fill="#ff0000"/>
<rect x="477.40" y="1022.07" width="161.45" height="5.96" fill="#000"/>
<text x="464.55" y="1026.27" text-anchor="end" font-size="12.30" textLength="8.85" lengthAdjust="spacingAndGlyphs" fill="#000">N</text>
<rect x="477.40" y="1039.04" width="19.81" height="5.96" fill="#ff0000"/>
<rect x="477.40" y="1045.00" width="7.79" height="5.96" fill="#000"/>
<text x="464.55" y="1049.20" text-anchor="end" font-size="12.30" textLength="40.57" lengthAdjust="spacingAndGlyphs" fill="#000">MzPzm</text>
<rect x="477.40" y="1061.98" width="101.22" height="5.96" fill="#ff0000"/>
<rect x="477.40" y="1067.93" width="82.60" height="5.96" fill="#000"/>
<text x="464.55" y="1072.13" text-anchor="end" font-size="12.30" textLength="13.54" lengthAdjust="spacingAndGlyphs" fill="#000">Pg</text>
<rect x="477.40" y="1090.87" width="10.58" height="5.96" fill="#000"/>
<text x="464.55" y="1095.07" text-anchor="end" font-size="12.30" textLength="32.98" lengthAdjust="spacingAndGlyphs" fill="#000">CzMzi</text>
<rect x="477.40" y="1107.84" width="57.74" height="5.96" fill="#ff0000"/>
<rect x="477.40" y="1113.80" width="58.65" height="5.96" fill="#000"/>
<text x="464.55" y="1118.00" text-anchor="end" font-size="12.30" textLength="7.12" lengthAdjust="spacingAndGlyphs" fill="#000">K</text>
<rect x="477.40" y="1130.78" width="53.77" height="5.96" fill="#ff0000"/>
<rect x="477.40" y="1136.73" width="3.63" height="5.96" fill="#000"/>
<text x="464.55" y="1140.93" text-anchor="end" font-size="12.30" textLength="74.97" lengthAdjust="spacingAndGlyphs" fill="#000">Water bodies</text>
<text x="477.55" y="1171.10" text-anchor="middle" font-size="12.30" textLength="24.29" lengthAdjust="spacingAndGlyphs" fill="#000">0.00</text>
<text x="510.05" y="1171.10" text-anchor="middle" font-size="12.30" textLength="24.29" lengthAdjust="spacingAndGlyphs" fill="#000">0.10</text>
<text x="542.55" y="1171.10" text-anchor="middle" font-size="12.30" textLength="24.29" lengthAdjust="spacingAndGlyphs" fill="#000">0.20</text>
<text x="575.05" y="1171.10" text-anchor="middle" font-size="12.30" textLength="24.29" lengthAdjust="spacingAndGlyphs" fill="#000">0.30</text>
<text x="607.55" y="1171.10" text-anchor="middle" font-size="12.30" textLength="24.29" lengthAdjust="spacingAndGlyphs" fill="#000">0.40</text>
<text x="640.05" y="1171.10" text-anchor="middle" font-size="12.30" textLength="24.29" lengthAdjust="spacingAndGlyphs" fill="#000">0.50</text>
<text x="672.55" y="1171.10" text-anchor="middle" font-size="12.30" textLength="24.29" lengthAdjust="spacingAndGlyphs" fill="#000">0.60</text>
<text x="575.00" y="1192.10" text-anchor="middle" font-size="12.30" textLength="20.92" lengthAdjust="spacingAndGlyphs" fill="#000">FRn</text>
<text x="370.90" y="1080.00" text-anchor="middle" font-size="12.30" textLength="45.70" lengthAdjust="spacingAndGlyphs" transform="rotate(-90 370.90 1080.00)" fill="#000">Geology</text>
<text x="349.20" y="1016.60" text-anchor="start" font-size="18.20" fill="#000" letter-spacing="0.4">(l)</text>
</g>
</svg>
</body></html>
